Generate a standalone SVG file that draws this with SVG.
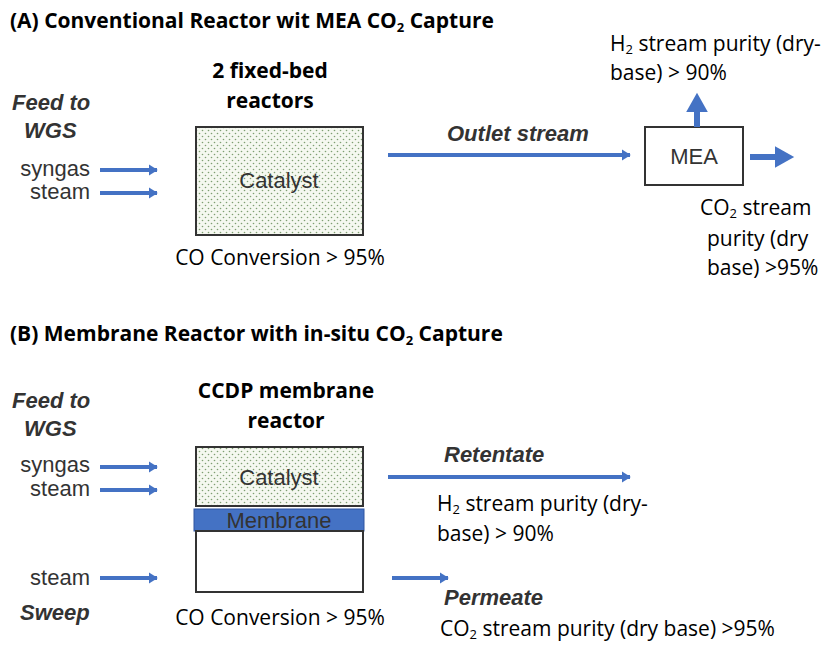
<svg xmlns="http://www.w3.org/2000/svg" width="831" height="646" viewBox="0 0 831 646">
<defs>
<pattern id="dots" width="6" height="6" patternUnits="userSpaceOnUse">
<rect width="6" height="6" fill="#f5f8f0"/>
<circle cx="1.5" cy="1.5" r="0.8" fill="#7f9f72"/>
<circle cx="4.5" cy="4.5" r="0.8" fill="#7f9f72"/>
</pattern>
<marker id="ah" markerWidth="4" markerHeight="4" refX="2" refY="2" orient="auto" markerUnits="strokeWidth">
<path d="M0,0.6 L2.2,2 L0,3.4 Z" fill="#4472c4"/>
</marker>
<marker id="ahb" markerWidth="4" markerHeight="4" refX="1" refY="2" orient="auto" markerUnits="strokeWidth">
<path d="M0,0.2 L3.2,2 L0,3.8 Z" fill="#4472c4"/>
</marker>
</defs>
<style>
.title{font-family:"Open Sans","Liberation Sans",sans-serif;font-weight:bold;font-size:21px;fill:#000}
.head{font-family:"Open Sans","Liberation Sans",sans-serif;font-weight:bold;font-size:21px;fill:#000;text-anchor:middle}
.cal{font-family:"Open Sans","Liberation Sans",sans-serif;font-size:21px;fill:#000}
.ari{font-family:"Liberation Sans",Arial,sans-serif;font-size:22px;fill:#333}
.bi{font-family:"Liberation Sans",Arial,sans-serif;font-size:22px;font-weight:bold;font-style:italic;fill:#333}
.box{stroke:#333;stroke-width:2}
.arr{stroke:#4472c4;stroke-width:4;fill:none;marker-end:url(#ah)}
.arrb{stroke:#4472c4;stroke-width:6;fill:none;marker-end:url(#ahb)}
.sub{font-size:13px}
</style>
<rect width="831" height="646" fill="#fff"/>

<g id="titleA"><text class="title" x="10" y="28">(A) Conventional Reactor wit MEA CO<tspan class="sub" dy="4">2</tspan><tspan dy="-4"> Capture</tspan></text></g>

<g id="feedA">
<text class="bi" x="12" y="110">Feed to</text>
<text class="bi" x="24" y="138">WGS</text>
<text class="ari" x="90" y="176" text-anchor="end">syngas</text>
<text class="ari" x="90" y="199" text-anchor="end">steam</text>
</g>

<g id="reactorA">
<text class="head" x="270" y="78">2 fixed-bed</text>
<text class="head" x="270" y="108">reactors</text>
<rect class="box" x="196" y="127" width="167" height="108" fill="url(#dots)"/>
<text class="ari" x="279" y="188" text-anchor="middle">Catalyst</text>
<text class="cal" x="280" y="265" text-anchor="middle">CO Conversion &gt; 95%</text>
</g>

<g id="mea">
<rect class="box" x="645" y="127" width="98" height="58" fill="#fff"/>
<text class="ari" x="694" y="164" text-anchor="middle">MEA</text>
</g>

<g id="labelsA">
<text class="bi" x="447" y="141" font-size="19">Outlet stream</text>
<text class="cal" x="610" y="51">H<tspan class="sub" dy="3">2</tspan><tspan dy="-3"> stream purity (dry-</tspan></text>
<text class="cal" x="610" y="80">base) &gt; 90%</text>
<text class="cal" x="700" y="215">CO<tspan class="sub" dy="3">2</tspan><tspan dy="-3"> stream</tspan></text>
<text class="cal" x="707" y="246">purity (dry</text>
<text class="cal" x="707" y="275">base) &gt;95%</text>
</g>

<g id="titleB"><text class="title" x="10" y="341">(B) Membrane Reactor with in-situ  CO<tspan class="sub" dy="4">2</tspan><tspan dy="-4"> Capture</tspan></text></g>

<g id="feedB">
<text class="bi" x="12" y="408">Feed to</text>
<text class="bi" x="24" y="436">WGS</text>
<text class="ari" x="90" y="472" text-anchor="end">syngas</text>
<text class="ari" x="90" y="496" text-anchor="end">steam</text>
<text class="ari" x="90" y="585" text-anchor="end">steam</text>
<text class="bi" x="20" y="620">Sweep</text>
</g>

<g id="reactorB">
<text class="head" x="286" y="398">CCDP membrane</text>
<text class="head" x="286" y="428">reactor</text>
<rect class="box" x="196" y="447" width="167" height="59" fill="url(#dots)"/>
<text class="ari" x="279" y="485" text-anchor="middle">Catalyst</text>
<rect x="194" y="509" width="170" height="22" fill="#4472c4" stroke="#2f55a0" stroke-width="1"/>
<text class="ari" x="279" y="528" text-anchor="middle" fill="#222" font-size="21">Membrane</text>
<rect class="box" x="196" y="531" width="167" height="61" fill="#fff"/>
<text class="cal" x="280" y="625" text-anchor="middle">CO Conversion &gt; 95%</text>
</g>

<g id="labelsB">
<text class="bi" x="444" y="462" font-size="19">Retentate</text>
<text class="cal" x="437" y="511">H<tspan class="sub" dy="3">2</tspan><tspan dy="-3"> stream purity (dry-</tspan></text>
<text class="cal" x="437" y="541">base) &gt; 90%</text>
<text class="bi" x="444" y="605" font-size="19">Permeate</text>
<text class="cal" x="440" y="636">CO<tspan class="sub" dy="3">2</tspan><tspan dy="-3"> stream purity (dry base) &gt;95%</tspan></text>
</g>

<g id="connectors">
<line class="arr" x1="100" y1="170" x2="157" y2="170"/>
<line class="arr" x1="100" y1="193" x2="157" y2="193"/>
<line class="arr" x1="388" y1="155" x2="630" y2="155"/>
<line class="arrb" x1="697" y1="127" x2="697" y2="106"/>
<line class="arrb" x1="750" y1="157" x2="781" y2="157"/>
<line class="arr" x1="100" y1="467" x2="157" y2="467"/>
<line class="arr" x1="100" y1="490" x2="157" y2="490"/>
<line class="arr" x1="100" y1="578" x2="157" y2="578"/>
<line class="arr" x1="388" y1="477" x2="630" y2="477"/>
<line class="arr" x1="392" y1="578" x2="448" y2="578"/>
</g>
</svg>
